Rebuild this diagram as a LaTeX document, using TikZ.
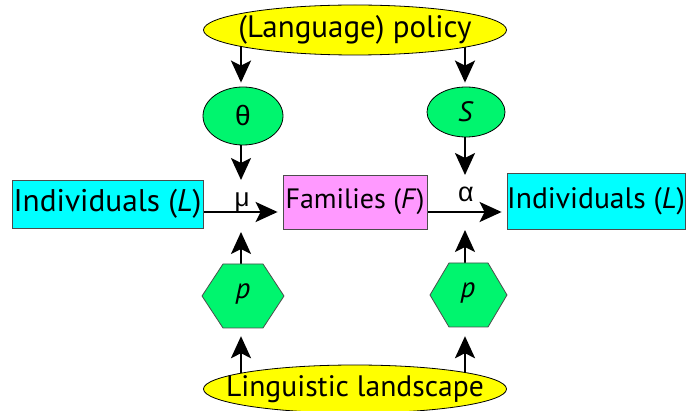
\documentclass[tikz,border=0pt]{standalone}
\usepackage{fontspec}
\setmainfont{PT Sans}
\newfontfamily\greekfont{Liberation Sans}
\usetikzlibrary{shapes.geometric,arrows.meta,backgrounds}

\definecolor{policyyellow}{RGB}{255,255,0}
\definecolor{paramgreen}{RGB}{0,245,110}
\definecolor{indivcyan}{RGB}{0,255,255}
\definecolor{familypink}{RGB}{255,153,255}

\begin{document}
\begin{tikzpicture}[x=1pt,y=1pt,
        oval/.style={ellipse, draw=black, line width=0.8pt, inner sep=0pt},
        box/.style={draw=black!70, line width=0.8pt, inner sep=0pt},
        hexa/.style={minimum width=82pt, minimum height=64pt, inner sep=0pt},
        arr/.style={line width=2.4pt, -{Stealth[length=22pt,width=20pt,inset=5pt]}}]
    \useasboundingbox (0,0) rectangle (686,410);

    \node[oval, fill=policyyellow, minimum width=303pt, minimum height=50pt, font=\fontsize{31}{36}\selectfont] (policy) at (355,380) {\makebox[0pt]{(Language) policy}};
    \node[oval, fill=policyyellow, minimum width=303pt, minimum height=48pt, font=\fontsize{29.6}{35}\selectfont] (land) at (355,21) {\makebox[0pt]{Linguistic landscape}};

    \node[oval, fill=paramgreen, minimum width=80pt, minimum height=58pt, font=\greekfont\fontsize{28}{32}\selectfont] (theta) at (243,294) {θ};
    \node[oval, fill=paramgreen, minimum width=78pt, minimum height=50pt, font=\fontsize{28}{32}\selectfont] (s) at (466,298) {\textit{S}};

    \node[box, fill=indivcyan, minimum width=191pt, minimum height=48pt, font=\fontsize{31.3}{36}\selectfont] (indL) at (107.5,206) {Individuals (\textit{L})};
    \node[box, fill=familypink, minimum width=144pt, minimum height=54pt, font=\fontsize{28}{33}\selectfont] (fam) at (355,208) {Families (\textit{F})};
    \node[box, fill=indivcyan, minimum width=178pt, minimum height=56pt, font=\fontsize{29.6}{34}\selectfont] (indR) at (596,209) {Individuals (\textit{L})};

    \filldraw[fill=paramgreen, draw=black!70, line width=0.8pt] (202,114) -- (223,146) -- (263,146) -- (284,114) -- (263,82) -- (223,82) -- cycle;
    \node[hexa, font=\fontsize{29}{34}\selectfont] (pL) at (243,116) {\textit{p}};
    \filldraw[fill=paramgreen, draw=black!70, line width=0.8pt] (430,115) -- (449,147) -- (488,147) -- (507,115) -- (488,83) -- (449,83) -- cycle;
    \node[hexa, minimum width=77pt, font=\fontsize{29}{34}\selectfont] (pR) at (468,117) {\textit{p}};

    \coordinate (mu) at (241,198);
    \coordinate (al) at (465,198);
    \node[font=\greekfont\fontsize{26}{30}\selectfont, anchor=base, inner sep=0pt] (mulab) at (242,203) {μ};
    \node[font=\greekfont\fontsize{27}{31}\selectfont, anchor=base, inner sep=0pt] (alab) at (466,208) {α};

    \begin{scope}[on background layer]
        \draw[arr, shorten >=4pt] (policy.center -| mu) -- (theta.north -| mu);
        \draw[arr, shorten >=4pt] (policy.center -| al) -- (s.north -| al);
        \draw[arr, shorten >=32pt] (theta.center -| mu) -- (mu);
        \draw[arr, shorten >=37pt] (s.center -| al) -- (al);
        \draw[arr, shorten >=20pt] (pL.center -| mu) -- (mu);
        \draw[arr, shorten >=18pt] (pR.center -| al) -- (al);
        \draw[arr, shorten >=10pt] (land.center -| mu) -- (pL.south -| mu);
        \draw[arr, shorten >=11pt] (land.center -| al) -- (pR.south -| al);
        \draw[arr, shorten >=5pt] (indL.center |- mu) -- (fam.west |- mu);
        \draw[arr, shorten >=5pt] (fam.center |- al) -- (indR.west |- al);
    \end{scope}
\end{tikzpicture}
\end{document}
